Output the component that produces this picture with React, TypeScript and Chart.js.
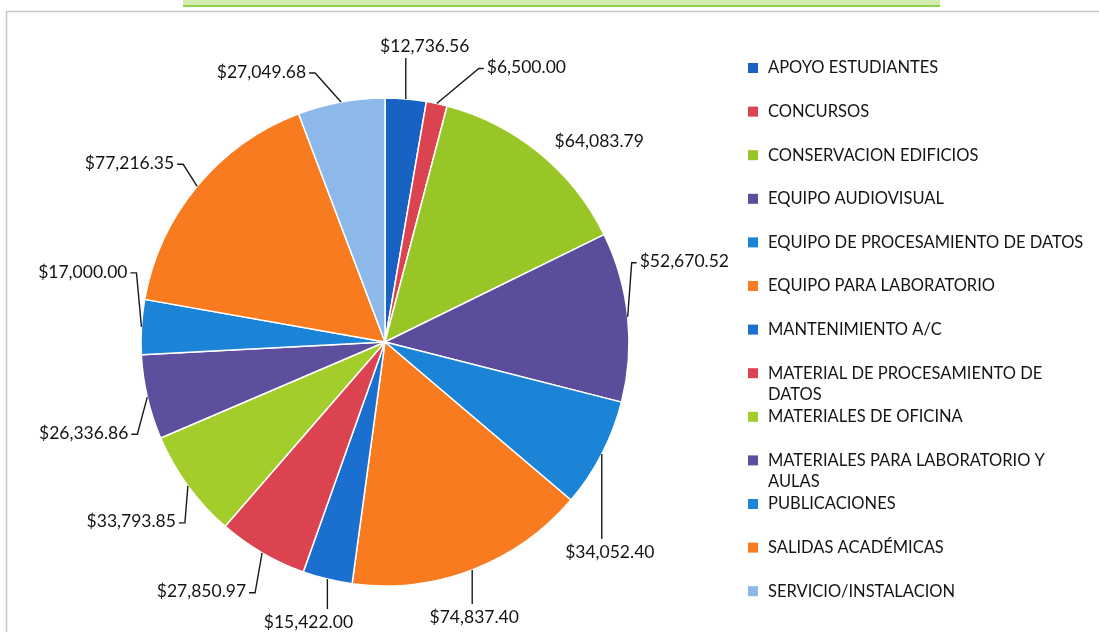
import React, { useEffect, useRef } from "react";
import { Chart, registerables } from "chart.js";

Chart.register(...registerables);

const categories = [
  "APOYO ESTUDIANTES",
  "CONCURSOS",
  "CONSERVACION EDIFICIOS",
  "EQUIPO AUDIOVISUAL",
  "EQUIPO DE PROCESAMIENTO DE DATOS",
  "EQUIPO PARA LABORATORIO",
  "MANTENIMIENTO A/C",
  "MATERIAL DE PROCESAMIENTO DE DATOS",
  "MATERIALES DE OFICINA",
  "MATERIALES PARA LABORATORIO Y AULAS",
  "PUBLICACIONES",
  "SALIDAS ACADÉMICAS",
  "SERVICIO/INSTALACION",
];

const amounts = [
  12736.56, 6500.0, 64083.79, 52670.52, 34052.4, 74837.4, 15422.0, 27850.97,
  33793.85, 26336.86, 17000.0, 77216.35, 27049.68,
];

const sliceColors = [
  "#1762c2",
  "#dc4350",
  "#98c626",
  "#5b4c9c",
  "#1b84d6",
  "#f97b1f",
  "#1b6fcf",
  "#dc4350",
  "#a3cd2a",
  "#5d4e9e",
  "#1b84d6",
  "#f97b1f",
  "#8cb8ea",
];

// label placement relative to the outer middle point of each slice
const labelLayout = [
  { dx: 19, dy: -53, align: "center", leader: true },
  { dx: 50, dy: -36, align: "left", leader: true },
  { dx: 15, dy: -12, align: "left", leader: false },
  { dx: 12, dy: -55, align: "left", leader: true },
  { dx: 8, dy: 98, align: "center", leader: true },
  { dx: 2, dy: 47, align: "center", leader: true },
  { dx: -19, dy: 43, align: "center", leader: true },
  { dx: -16, dy: 39, align: "right", leader: true },
  { dx: -12, dy: 36, align: "right", leader: true },
  { dx: -19, dy: 36, align: "right", leader: true },
  { dx: -14, dy: -55, align: "right", leader: true },
  { dx: -23, dy: -23, align: "right", leader: true },
  { dx: -35, dy: -30, align: "right", leader: true },
];

const FONT = "Lato, 'Open Sans', sans-serif";

const fmt = (v: number) =>
  "$" +
  v.toLocaleString("en-US", { minimumFractionDigits: 2, maximumFractionDigits: 2 });

function wrapWords(ctx: CanvasRenderingContext2D, text: string, maxW: number) {
  const words = text.split(" ");
  const lines: string[] = [];
  let cur = "";
  for (const w of words) {
    const test = cur ? cur + " " + w : w;
    if (ctx.measureText(test).width > maxW && cur) {
      lines.push(cur);
      cur = w;
    } else cur = test;
  }
  if (cur) lines.push(cur);
  return lines;
}

const decorPlugin = {
  id: "decor",
  beforeDraw(chart: any) {
    const ctx = chart.ctx as CanvasRenderingContext2D;
    ctx.save();
    ctx.fillStyle = "#ffffff";
    ctx.fillRect(0, 0, chart.width, chart.height);
    // scanned frame
    ctx.fillStyle = "#d2ecb0";
    ctx.fillRect(183, 0, 757, 6);
    ctx.fillStyle = "#8fd14f";
    ctx.fillRect(183, 5, 757, 2);
    ctx.strokeStyle = "#c8c8c8";
    ctx.lineWidth = 1.5;
    ctx.beginPath();
    ctx.moveTo(6.5, chart.height);
    ctx.lineTo(6.5, 11.5);
    ctx.lineTo(chart.width, 11.5);
    ctx.stroke();
    ctx.restore();
  },
  afterDraw(chart: any) {
    const ctx = chart.ctx as CanvasRenderingContext2D;
    const meta = chart.getDatasetMeta(0);
    ctx.save();
    ctx.font = `17.5px ${FONT}`;
    ctx.fillStyle = "#141414";
    ctx.strokeStyle = "#1a1a1a";
    ctx.lineWidth = 1.4;
    ctx.textBaseline = "middle";
    meta.data.forEach((arc: any, i: number) => {
      const p = arc.getProps(["x", "y", "startAngle", "endAngle", "outerRadius"], true);
      const mid = (p.startAngle + p.endAngle) / 2;
      const ex = p.x + Math.cos(mid) * p.outerRadius;
      const ey = p.y + Math.sin(mid) * p.outerRadius;
      const L = labelLayout[i];
      const tx = ex + L.dx;
      const ty = ey + L.dy;
      const txt = fmt(amounts[i]);
      ctx.textAlign = L.align as CanvasTextAlign;
      ctx.fillText(txt, tx, ty);
      if (!L.leader) return;
      ctx.beginPath();
      if (L.align === "center") {
        const endY = L.dy < 0 ? ty + 12 : ty - 13;
        ctx.moveTo(ex, ey);
        ctx.lineTo(ex, endY);
      } else if (L.align === "right") {
        ctx.moveTo(ex, ey);
        ctx.lineTo(tx + 9, ty + 1);
        ctx.lineTo(tx + 3, ty + 1);
      } else {
        ctx.moveTo(ex, ey);
        ctx.lineTo(tx - 8, ty + 1);
        ctx.lineTo(tx - 3, ty + 1);
      }
      ctx.stroke();
    });

    // legend
    ctx.textAlign = "left";
    ctx.font = `16.5px ${FONT}`;
    const lx = 748;
    const textX = 768;
    const top = 68;
    const step = 43.6;
    categories.forEach((c, i) => {
      const y = top + i * step;
      ctx.fillStyle = sliceColors[i];
      ctx.fillRect(lx, y - 5, 10, 10);
      ctx.fillStyle = "#141414";
      const lines = wrapWords(ctx, c, 325);
      lines.forEach((ln, k) => ctx.fillText(ln, textX, y + k * 21));
    });
    ctx.restore();
  },
};

export default function App() {
  const ref = useRef<HTMLCanvasElement | null>(null);
  useEffect(() => {
    if (!ref.current) return;
    const chart = new Chart(ref.current, {
      type: "pie",
      data: {
        labels: categories,
        datasets: [
          {
            data: amounts,
            backgroundColor: sliceColors,
            borderColor: "#ffffff",
            borderWidth: 1.5,
            radius: 244,
          } as any,
        ],
      },
      options: {
        responsive: false,
        animation: false,
        layout: { padding: { left: 100, right: 429, top: 60, bottom: 8 } },
        plugins: {
          legend: { display: false },
          tooltip: { enabled: false },
        },
      },
      plugins: [decorPlugin],
    });
    return () => chart.destroy();
  }, []);
  return (
    <div style={{ position: "fixed", left: 0, top: 0, width: 1099, height: 632, background: "#fff" }}>
      <canvas ref={ref} width={1099} height={632} style={{ display: "block" }} />
    </div>
  );
}
